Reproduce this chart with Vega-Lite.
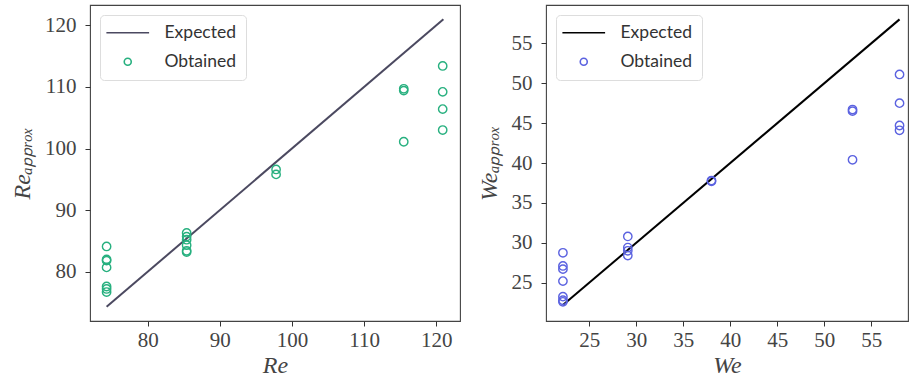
{
  "$schema": "https://vega.github.io/schema/vega-lite/v6.json",
  "background": "white",
  "padding": {"left": 9, "top": 4, "right": 0, "bottom": 0},
  "spacing": 15,
  "datasets": {
    "re": [
      {"x": 74.3, "y": 74.3, "series": "Expected"},
      {"x": 121.0, "y": 121.0, "series": "Expected"},
      {"x": 74.3, "y": 84.1, "series": "Obtained"},
      {"x": 74.3, "y": 82.0, "series": "Obtained"},
      {"x": 74.3, "y": 81.8, "series": "Obtained"},
      {"x": 74.3, "y": 80.7, "series": "Obtained"},
      {"x": 74.3, "y": 77.6, "series": "Obtained"},
      {"x": 74.3, "y": 77.2, "series": "Obtained"},
      {"x": 74.3, "y": 76.7, "series": "Obtained"},
      {"x": 85.4, "y": 86.3, "series": "Obtained"},
      {"x": 85.4, "y": 85.7, "series": "Obtained"},
      {"x": 85.4, "y": 85.2, "series": "Obtained"},
      {"x": 85.4, "y": 84.3, "series": "Obtained"},
      {"x": 85.4, "y": 83.4, "series": "Obtained"},
      {"x": 85.4, "y": 83.2, "series": "Obtained"},
      {"x": 97.8, "y": 96.6, "series": "Obtained"},
      {"x": 97.8, "y": 95.8, "series": "Obtained"},
      {"x": 115.5, "y": 109.7, "series": "Obtained"},
      {"x": 115.5, "y": 109.4, "series": "Obtained"},
      {"x": 115.5, "y": 101.1, "series": "Obtained"},
      {"x": 120.9, "y": 113.4, "series": "Obtained"},
      {"x": 120.9, "y": 109.2, "series": "Obtained"},
      {"x": 120.9, "y": 106.4, "series": "Obtained"},
      {"x": 120.9, "y": 103.0, "series": "Obtained"}
    ],
    "we": [
      {"x": 22.2, "y": 22.2, "series": "Expected"},
      {"x": 58.0, "y": 58.0, "series": "Expected"},
      {"x": 22.2, "y": 28.75, "series": "Obtained"},
      {"x": 22.2, "y": 27.1, "series": "Obtained"},
      {"x": 22.2, "y": 26.7, "series": "Obtained"},
      {"x": 22.2, "y": 25.2, "series": "Obtained"},
      {"x": 22.2, "y": 23.25, "series": "Obtained"},
      {"x": 22.2, "y": 22.8, "series": "Obtained"},
      {"x": 22.2, "y": 22.6, "series": "Obtained"},
      {"x": 29.1, "y": 30.8, "series": "Obtained"},
      {"x": 29.1, "y": 29.4, "series": "Obtained"},
      {"x": 29.1, "y": 29.0, "series": "Obtained"},
      {"x": 29.1, "y": 28.4, "series": "Obtained"},
      {"x": 38.0, "y": 37.8, "series": "Obtained"},
      {"x": 38.0, "y": 37.7, "series": "Obtained"},
      {"x": 53.0, "y": 46.7, "series": "Obtained"},
      {"x": 53.0, "y": 46.5, "series": "Obtained"},
      {"x": 53.0, "y": 40.4, "series": "Obtained"},
      {"x": 58.0, "y": 51.1, "series": "Obtained"},
      {"x": 58.0, "y": 47.5, "series": "Obtained"},
      {"x": 58.0, "y": 44.7, "series": "Obtained"},
      {"x": 58.0, "y": 44.1, "series": "Obtained"}
    ]
  },
  "resolve": {
    "scale": {"color": "independent", "shape": "independent"},
    "legend": {"color": "independent", "shape": "independent"}
  },
  "hconcat": [
    {
      "width": 370,
      "height": 316,
      "data": {"name": "re"},
      "encoding": {
        "x": {"field": "x", "type": "quantitative",
          "scale": {"domain": [72.0, 123.3], "nice": false, "zero": false},
          "axis": {"values": [80, 90, 100, 110, 120], "title": "Re"}},
        "y": {"field": "y", "type": "quantitative",
          "scale": {"domain": [72.0, 123.3], "nice": false, "zero": false},
          "axis": {"values": [80, 90, 100, 110, 120], "title": "Reₐₚₚᵣₒₓ"}},
        "color": {"field": "series", "type": "nominal",
          "scale": {"domain": ["Expected", "Obtained"], "range": ["#4b4960", "#27b07f"]},
          "legend": {"title": null, "orient": "top-left"}}
      },
      "layer": [
        {"transform": [{"filter": "datum.series === 'Expected'"}],
         "mark": {"type": "line", "strokeWidth": 2}},
        {"transform": [{"filter": "datum.series === 'Obtained'"}],
         "mark": {"type": "point", "filled": false, "size": 70, "strokeWidth": 1.4, "opacity": 1},
         "encoding": {
           "shape": {"field": "series", "type": "nominal",
             "scale": {"domain": ["Expected", "Obtained"], "range": ["M-6.1,0H6.1", "circle"]},
             "legend": {"title": null, "orient": "top-left"}}
         }}
      ]
    },
    {
      "width": 362,
      "height": 316,
      "data": {"name": "we"},
      "encoding": {
        "x": {"field": "x", "type": "quantitative",
          "scale": {"domain": [20.4, 58.9], "nice": false, "zero": false},
          "axis": {"values": [25, 30, 35, 40, 45, 50, 55], "title": "We"}},
        "y": {"field": "y", "type": "quantitative",
          "scale": {"domain": [20.2, 59.8], "nice": false, "zero": false},
          "axis": {"values": [25, 30, 35, 40, 45, 50, 55], "title": "Weₐₚₚᵣₒₓ"}},
        "color": {"field": "series", "type": "nominal",
          "scale": {"domain": ["Expected", "Obtained"], "range": ["#000000", "#5b62e0"]},
          "legend": {"title": null, "orient": "top-left"}}
      },
      "layer": [
        {"transform": [{"filter": "datum.series === 'Expected'"}],
         "mark": {"type": "line", "strokeWidth": 2}},
        {"transform": [{"filter": "datum.series === 'Obtained'"}],
         "mark": {"type": "point", "filled": false, "size": 70, "strokeWidth": 1.4, "opacity": 1},
         "encoding": {
           "shape": {"field": "series", "type": "nominal",
             "scale": {"domain": ["Expected", "Obtained"], "range": ["M-6.1,0H6.1", "circle"]},
             "legend": {"title": null, "orient": "top-left"}}
         }}
      ]
    }
  ],
  "config": {
    "view": {"stroke": "#444", "strokeWidth": 1.1},
    "axis": {
      "grid": false,
      "domain": false,
      "ticks": true,
      "tickColor": "#333",
      "tickSize": 5,
      "labelFont": "Liberation Serif",
      "labelFontSize": 21,
      "labelColor": "#444",
      "titleFont": "Liberation Serif",
      "titleFontStyle": "italic",
      "titleFontWeight": "normal",
      "titleFontSize": 24,
      "titleColor": "#444"
    },
    "axisX": {"labelPadding": 3, "titlePadding": 3},
    "axisY": {"labelPadding": 9, "titlePadding": 10},
    "legend": {
      "offset": 10,
      "padding": 9,
      "strokeColor": "#ddd",
      "fillColor": "rgba(255,255,255,0.85)",
      "cornerRadius": 4,
      "labelFont": "Lato",
      "labelFontSize": 17.5,
      "labelColor": "#333",
      "symbolSize": 49,
      "symbolStrokeWidth": 1.6,
      "symbolOffset": 10,
      "labelOffset": 28,
      "rowPadding": 10
    }
  }
}
